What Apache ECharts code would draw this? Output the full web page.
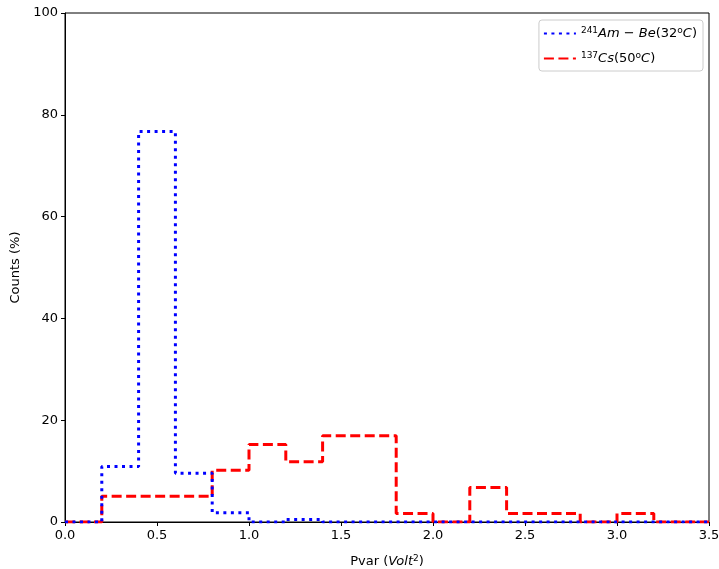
<!DOCTYPE html>
<html><head><meta charset="utf-8">
<script src="https://cdn.jsdelivr.net/npm/echarts@6/dist/echarts.min.js"></script>
<style>html,body{margin:0;padding:0;background:#fff}#c{width:719px;height:569px}</style>
</head><body><div id="c"></div>
<script>
// Bin edges (Pvar, Volt^2) - each value applies from this edge to the next
const binEdges = [0.0,0.2,0.4,0.6,0.8,1.0,1.2,1.4,1.6,1.8,2.0,2.2,2.4,2.6,2.8,3.0,3.2,3.4,3.5];
// Am-Be (32 C) counts (%)
const amBeValues = [0,10.9,76.7,9.6,1.8,0,0.5,0,0,0,0,0,0,0,0,0,0,0,0];
// Cs-137 (50 C) counts (%)
const csValues = [0,5.08,5.08,5.08,10.17,15.25,11.86,16.95,16.95,1.69,0,6.78,1.69,1.69,0,1.69,0,0,0];
const xTicks = [0,0.5,1.0,1.5,2.0,2.5,3.0,3.5];
const yTicks = [0,20,40,60,80,100];

const font = 'DejaVu Sans';
const chart = echarts.init(document.getElementById('c'), null, {renderer:'canvas'});
const toPairs = vals => binEdges.map((x,i)=>[x, vals[i]]);
const supStyle = {fontFamily:font, fontSize:9, verticalAlign:'top', padding:[0,0,6,0], color:'#000'};
const itStyle = {fontFamily:font, fontSize:13, fontStyle:'italic', color:'#000'};
const upStyle = {fontFamily:font, fontSize:13, color:'#000'};
chart.setOption({
  animation:false,
  grid:{left:65,right:10,top:13,bottom:47,outerBoundsMode:'none',containLabel:false,show:true,borderColor:'#000',borderWidth:1,backgroundColor:'transparent'},
  xAxis:{type:'value',min:0,max:3.5,interval:0.5,
    axisLine:{show:true,onZero:false,lineStyle:{color:'#000',width:1}},
    axisTick:{show:true,inside:false,length:4,lineStyle:{color:'#000'}},
    splitLine:{show:false},
    axisLabel:{color:'#000',fontFamily:font,fontSize:13,margin:7,formatter:v=>v.toFixed(1)},
    name:'{up|Pvar (}{it|Volt}{sup|2}{up|)}',nameLocation:'middle',nameGap:32,
    nameTextStyle:{rich:{up:upStyle,it:itStyle,sup:supStyle}}
  },
  yAxis:{type:'value',min:0,max:100,interval:20,
    axisLine:{show:true,lineStyle:{color:'#000',width:1}},
    axisTick:{show:true,inside:false,length:4,lineStyle:{color:'#000'}},
    splitLine:{show:false},
    axisLabel:{color:'#000',fontFamily:font,fontSize:13,margin:7},
    name:'Counts (%)',nameLocation:'middle',nameGap:40,
    nameTextStyle:{color:'#000',fontFamily:font,fontSize:13}
  },
  legend:{show:true,top:20,right:16,orient:'vertical',itemWidth:32,itemHeight:12,itemGap:11,
    backgroundColor:'#fff',borderColor:'#ccc',borderWidth:1,borderRadius:3,padding:[6,6,6,4],
    itemStyle:{opacity:0},
    formatter:function(name){
      if(name==='am') return '{sup|241}{it|Am}{up| − }{it|Be}{up|(32}{sup|o}{it|C}{up|)}';
      return '{sup|137}{it|Cs}{up|(50}{sup|o}{it|C}{up|)}';
    },
    textStyle:{rich:{up:upStyle,it:itStyle,sup:supStyle}},
    data:['am','cs']
  },
  series:[
    {name:'am',type:'line',step:'end',data:toPairs(amBeValues),showSymbol:false,symbol:'none',
      lineStyle:{color:'#0000ff',width:3,type:[3,4.5]},itemStyle:{color:'#0000ff'},z:3},
    {name:'cs',type:'line',step:'end',data:toPairs(csValues),showSymbol:false,symbol:'none',
      lineStyle:{color:'#ff0000',width:3,type:[10,4.5]},itemStyle:{color:'#ff0000'},z:2}
  ]
});
</script></body></html>
